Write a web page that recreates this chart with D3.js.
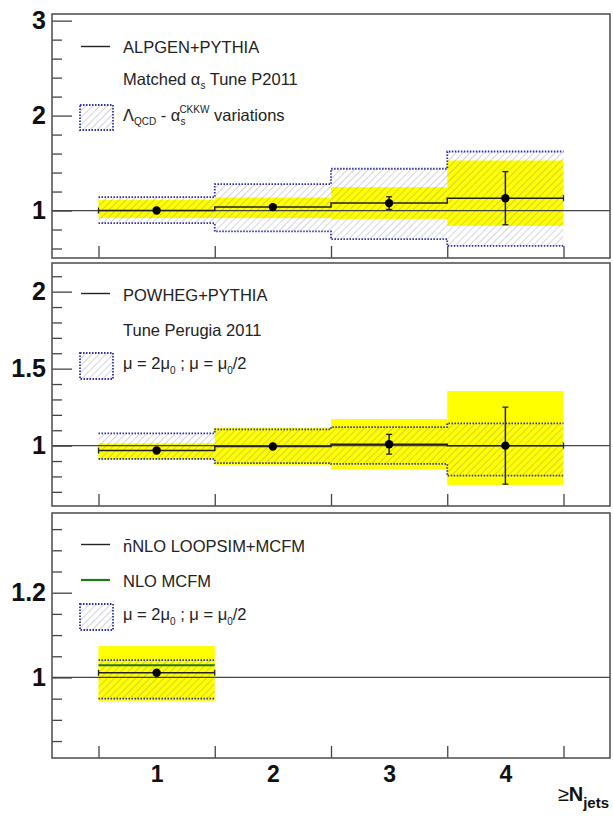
<!DOCTYPE html>
<html>
<head>
<meta charset="utf-8">
<script src="https://cdn.jsdelivr.net/npm/d3@7"></script>
<style>
  body { margin: 0; background: #fff; }
  svg { font-family: "Liberation Sans", Arial, sans-serif; }
  .lab { font-size: 16.5px; fill: #222; }
  .ytick text { font-size: 25px; font-weight: bold; fill: #111; }
</style>
</head>
<body>
<div id="viz"></div>
<script>
// bins (jet multiplicity) and bin edges
var bins = [1, 2, 3, 4];
var edges = [0.5, 1.5, 2.5, 3.5, 4.5];

// ALPGEN+PYTHIA panel
var alpgenRatio = [1.0, 1.036, 1.078, 1.13];
var alpgenErr = [0.008, 0.012, 0.067, 0.28];
var alpgenVarLo = [0.867, 0.78, 0.698, 0.628];
var alpgenVarHi = [1.141, 1.278, 1.44, 1.622];
var alpgenBandLo = [0.92, 0.92, 0.912, 0.839];
var alpgenBandHi = [1.113, 1.137, 1.247, 1.527];

// POWHEG+PYTHIA panel
var powhegRatio = [0.968, 0.994, 1.009, 1.0];
var powhegErr = [0.006, 0.008, 0.064, 0.25];
var powhegVarLo = [0.914, 0.886, 0.881, 0.805];
var powhegVarHi = [1.08, 1.106, 1.12, 1.145];
var powhegBandLo = [0.907, 0.875, 0.847, 0.745];
var powhegBandHi = [1.015, 1.117, 1.173, 1.355];

// LOOPSIM panel (only first bin)
var loopsimRatio = [1.011];
var loopsimErr = [0.004];
var mcfmRatio = [1.029];
var loopsimVarLo = [0.95];
var loopsimVarHi = [1.041];
var loopsimBandLo = [0.945];
var loopsimBandHi = [1.074];

var xTickLabels = ["1", "2", "3", "4"];

var W = 613, H = 816;
var left = 52, right = 610;

var svg = d3.select("#viz").append("svg")
  .attr("width", W)
  .attr("height", H);

var defs = svg.append("defs");
var pat = defs.append("pattern")
  .attr("id", "hatch")
  .attr("patternUnits", "userSpaceOnUse")
  .attr("width", 5).attr("height", 5)
  .attr("patternTransform", "rotate(45)");
pat.append("line")
  .attr("x1", 0).attr("y1", 0).attr("x2", 0).attr("y2", 5)
  .attr("stroke", "#6f6f95").attr("stroke-width", 0.8).attr("stroke-opacity", 0.75);

var x = d3.scaleLinear().domain([0.1, 4.9]).range([left, right]);

var panels = [
  { top: 14, bottom: 258, domain: [0.5, 3.07], major: [1, 2, 3], minorStep: 0.2, fmt: d3.format("d"),
    ratio: alpgenRatio, err: alpgenErr, varLo: alpgenVarLo, varHi: alpgenVarHi, bandLo: alpgenBandLo, bandHi: alpgenBandHi },
  { top: 263, bottom: 506, domain: [0.608, 2.186], major: [1, 1.5, 2], minorStep: 0.1, fmt: function (d) { return d === 1.5 ? "1.5" : d3.format("d")(d); },
    ratio: powhegRatio, err: powhegErr, varLo: powhegVarLo, varHi: powhegVarHi, bandLo: powhegBandLo, bandHi: powhegBandHi },
  { top: 513, bottom: 758, domain: [0.81, 1.388], major: [1, 1.2], minorStep: 0.05, fmt: function (d) { return d === 1 ? "1" : "1.2"; },
    ratio: loopsimRatio, err: loopsimErr, varLo: loopsimVarLo, varHi: loopsimVarHi, bandLo: loopsimBandLo, bandHi: loopsimBandHi, green: mcfmRatio }
];

function stepPath(vals, y) {
  var p = d3.path();
  vals.forEach(function (v, i) {
    if (i === 0) p.moveTo(x(edges[i]), y(v));
    else p.lineTo(x(edges[i]), y(v));
    p.lineTo(x(edges[i + 1]), y(v));
  });
  return p.toString();
}

panels.forEach(function (P, pi) {
  var y = d3.scaleLinear().domain(P.domain).range([P.bottom, P.top]);
  var g = svg.append("g");
  var n = P.ratio.length;
  var idx = d3.range(n);

  // yellow band
  g.selectAll(".band").data(idx).enter().append("rect")
    .attr("x", function (i) { return x(edges[i]); })
    .attr("width", function (i) { return x(edges[i + 1]) - x(edges[i]); })
    .attr("y", function (i) { return y(P.bandHi[i]); })
    .attr("height", function (i) { return y(P.bandLo[i]) - y(P.bandHi[i]); })
    .attr("fill", "#ffff00");

  // hatched variation
  g.selectAll(".var").data(idx).enter().append("rect")
    .attr("x", function (i) { return x(edges[i]); })
    .attr("width", function (i) { return x(edges[i + 1]) - x(edges[i]); })
    .attr("y", function (i) { return y(P.varHi[i]); })
    .attr("height", function (i) { return y(P.varLo[i]) - y(P.varHi[i]); })
    .attr("fill", "url(#hatch)");

  [P.varHi, P.varLo].forEach(function (vals) {
    g.append("path")
      .attr("d", stepPath(vals, y))
      .attr("fill", "none")
      .attr("stroke", "#2f2fa8")
      .attr("stroke-width", 1.8)
      .attr("stroke-dasharray", "1.5,1.5");
  });

  // reference line at 1
  g.append("line")
    .attr("x1", left).attr("x2", right)
    .attr("y1", y(1)).attr("y2", y(1))
    .attr("stroke", "#444").attr("stroke-width", 1.3);

  if (P.green) {
    g.append("path")
      .attr("d", stepPath(P.green, y))
      .attr("fill", "none").attr("stroke", "#1f7a1f").attr("stroke-width", 2);
  }

  // MC histogram
  g.append("path")
    .attr("d", stepPath(P.ratio, y))
    .attr("fill", "none").attr("stroke", "#222").attr("stroke-width", 1.5);
  // end caps
  g.selectAll(".cap").data([0, n]).enter().append("line")
    .attr("x1", function (i) { return x(edges[i]); })
    .attr("x2", function (i) { return x(edges[i]); })
    .attr("y1", function (i) { return y(P.ratio[Math.min(i, n - 1)]) - 3; })
    .attr("y2", function (i) { return y(P.ratio[Math.min(i, n - 1)]) + 3; })
    .attr("stroke", "#222").attr("stroke-width", 1.3);

  // error bars + points
  g.selectAll(".eb").data(idx).enter().append("line")
    .attr("x1", function (i) { return x(bins[i]); })
    .attr("x2", function (i) { return x(bins[i]); })
    .attr("y1", function (i) { return y(P.ratio[i] + P.err[i]); })
    .attr("y2", function (i) { return y(P.ratio[i] - P.err[i]); })
    .attr("stroke", "#222").attr("stroke-width", 1.5);
  [1, -1].forEach(function (s) {
    g.selectAll(".ebc").data(idx.filter(function (i) { return P.err[i] > 0.03; })).enter().append("line")
      .attr("x1", function (i) { return x(bins[i]) - 3; })
      .attr("x2", function (i) { return x(bins[i]) + 3; })
      .attr("y1", function (i) { return y(P.ratio[i] + s * P.err[i]); })
      .attr("y2", function (i) { return y(P.ratio[i] + s * P.err[i]); })
      .attr("stroke", "#222").attr("stroke-width", 1.3);
  });
  g.selectAll(".pt").data(idx).enter().append("circle")
    .attr("cx", function (i) { return x(bins[i]); })
    .attr("cy", function (i) { return y(P.ratio[i]); })
    .attr("r", 4.2).attr("fill", "#000");

  // y axes, ticks inside
  var minor = d3.range(Math.ceil(P.domain[0] / P.minorStep - 1e-6), Math.floor(P.domain[1] / P.minorStep + 1e-6) + 1)
    .map(function (k) { return +(k * P.minorStep).toFixed(3); })
    .filter(function (v) { return P.major.indexOf(v) < 0; });
  g.append("g")
    .attr("transform", "translate(" + left + ",0)")
    .call(d3.axisLeft(y).tickValues(minor).tickSize(-10).tickFormat(""))
    .call(function (a) { a.select(".domain").remove(); a.selectAll("line").attr("stroke", "#444").attr("stroke-width", 1.3); });
  g.append("g")
    .attr("class", "ytick")
    .attr("transform", "translate(" + left + ",0)")
    .call(d3.axisLeft(y).tickValues(P.major).tickSize(-20).tickPadding(6).tickFormat(P.fmt))
    .call(function (a) { a.select(".domain").remove(); a.selectAll("line").attr("stroke", "#444").attr("stroke-width", 1.3); });

  // x ticks at bin edges
  g.append("g")
    .attr("transform", "translate(0," + P.bottom + ")")
    .call(d3.axisBottom(x).tickValues(edges).tickSize(-12).tickFormat(""))
    .call(function (a) { a.select(".domain").remove(); a.selectAll("line").attr("stroke", "#444").attr("stroke-width", 1.3); });

  // frame
  g.append("rect")
    .attr("x", left).attr("y", P.top)
    .attr("width", right - left).attr("height", P.bottom - P.top)
    .attr("fill", "none").attr("stroke", "#555").attr("stroke-width", 1.6);
});

// x labels
svg.append("g")
  .attr("transform", "translate(0,758)")
  .call(d3.axisBottom(x).tickValues(bins).tickSize(0).tickPadding(8).tickFormat(function (d, i) { return xTickLabels[i]; }))
  .call(function (a) {
    a.select(".domain").remove();
    a.selectAll("text").attr("font-size", 23).attr("font-weight", "bold").attr("fill", "#111")
      .attr("font-family", "Liberation Sans, Arial, sans-serif");
  });

var xt = svg.append("text").attr("x", 609).attr("y", 801).attr("text-anchor", "end")
  .attr("fill", "#111").attr("font-weight", "bold");
xt.append("tspan").attr("font-size", 20).attr("font-weight", "normal").text("\u2265");
xt.append("tspan").attr("font-size", 20).text("N");
xt.append("tspan").attr("font-size", 15).attr("dy", 7).text("jets");

// legends
function lineSample(yy, color, w) {
  svg.append("line").attr("x1", 81).attr("x2", 110).attr("y1", yy).attr("y2", yy)
    .attr("stroke", color).attr("stroke-width", w);
}
function boxSample(y0, y1) {
  svg.append("rect").attr("x", 80).attr("y", y0).attr("width", 33).attr("height", y1 - y0)
    .attr("fill", "url(#hatch)").attr("stroke", "#2f2fa8").attr("stroke-width", 1.8)
    .attr("stroke-dasharray", "1.5,1.5");
}
function label(yy) {
  return svg.append("text").attr("class", "lab").attr("x", 123).attr("y", yy);
}

lineSample(46.5, "#222", 1.4);
label(53).text("ALPGEN+PYTHIA");
var t = label(85);
t.append("tspan").text("Matched \u03b1");
t.append("tspan").attr("font-size", 10).attr("dy", 4).text("s");
t.append("tspan").attr("dy", -4).text(" Tune P2011");
boxSample(105, 130);
t = label(121);
t.append("tspan").attr("font-family", "DejaVu Sans, sans-serif").attr("font-size", 16).text("\u039b");
t.append("tspan").attr("font-size", 10).attr("dy", 4).text("QCD");
t.append("tspan").attr("dy", -4).text(" - \u03b1");
t.append("tspan").attr("font-size", 10).attr("dy", 4).text("s");
t.append("tspan").attr("font-size", 10).attr("dx", -6).attr("dy", -12).text("CKKW");
t.append("tspan").attr("dy", 8).text(" variations");

lineSample(293.5, "#222", 1.4);
label(301).text("POWHEG+PYTHIA");
label(336).text("Tune Perugia 2011");
boxSample(353, 379);

function muLabel(yy) {
  var m = label(yy);
  m.append("tspan").text("\u03bc = 2\u03bc");
  m.append("tspan").attr("font-size", 10).attr("dy", 5).text("0");
  m.append("tspan").attr("dy", -5).text(" ; \u03bc = \u03bc");
  m.append("tspan").attr("font-size", 10).attr("dy", 5).text("0");
  m.append("tspan").attr("dy", -5).text("/2");
}
muLabel(369);

lineSample(544.5, "#222", 1.4);
label(552).text("n\u0304NLO LOOPSIM+MCFM");
lineSample(580, "#1f7a1f", 2.2);
label(587).text("NLO MCFM");
boxSample(604, 630);
muLabel(620);
</script>
</body>
</html>
